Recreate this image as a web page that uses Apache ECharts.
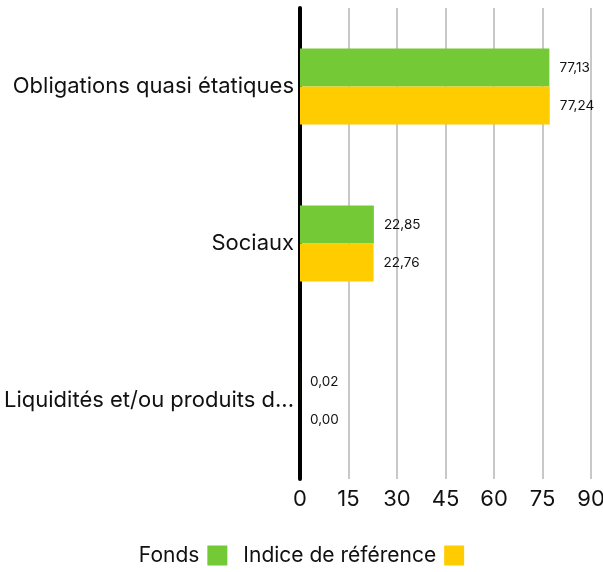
<!DOCTYPE html>
<html>
<head>
<meta charset="utf-8">
<script src="https://cdn.jsdelivr.net/npm/echarts@6/dist/echarts.min.js"></script>
<style>
  html, body { margin: 0; padding: 0; background: #fff; }
  #chart { width: 603px; height: 572px; }
</style>
</head>
<body>
<div id="chart"></div>
<script>
// catégories (de haut en bas)
const categories = ['Obligations quasi étatiques', 'Sociaux', 'Liquidités et/ou produits dérivés'];
const fondsData = [77.13, 22.85, 0.02];
const indiceData = [77.24, 22.76, 0.00];
const xTicks = [0, 15, 30, 45, 60, 75, 90];

const chart = echarts.init(document.getElementById('chart'));
const fontFamily = 'Inter, sans-serif';

const valueLabel = {
  show: true,
  position: 'right',
  distance: 10,
  color: '#111',
  fontSize: 13.5,
  fontFamily: fontFamily,
  formatter: p => p.value.toFixed(2).replace('.', ',')
};

chart.setOption({
  animation: false,
  grid: {
    left: 300,
    right: 12,
    top: 8,
    bottom: 93,
    outerBoundsMode: 'none'
  },
  legend: {
    bottom: 6,
    left: 'center',
    padding: 0,
    align: 'right',
    icon: 'rect',
    itemWidth: 20,
    itemHeight: 20,
    itemGap: 16,
    textStyle: { color: '#111', fontSize: 21, fontFamily: fontFamily, padding: [0, 3, 0, 0] },
    data: ['Fonds', 'Indice de référence']
  },
  xAxis: {
    type: 'value',
    min: xTicks[0],
    max: xTicks[xTicks.length - 1],
    interval: 15,
    axisLine: { show: false },
    axisTick: { show: false },
    axisLabel: { color: '#111', fontSize: 22, fontFamily: fontFamily, margin: 9 },
    splitLine: { show: true, lineStyle: { color: '#c8c8c8', width: 2 } }
  },
  yAxis: {
    type: 'category',
    inverse: true,
    data: categories,
    axisLine: { show: true, lineStyle: { color: '#000', width: 4 } },
    axisTick: { show: false },
    axisLabel: {
      color: '#111',
      fontSize: 22,
      fontFamily: fontFamily,
      margin: 6,
      width: 294,
      overflow: 'truncate',
      ellipsis: '...'
    }
  },
  series: [{
    name: 'Fonds',
    type: 'bar',
    barWidth: 38,
    barGap: '0%',
    itemStyle: { color: '#74c936' },
    label: valueLabel,
    data: fondsData
  }, {
    name: 'Indice de référence',
    type: 'bar',
    barWidth: 38,
    itemStyle: { color: '#ffcc00' },
    label: valueLabel,
    data: indiceData
  }]
});
</script>
</body>
</html>
